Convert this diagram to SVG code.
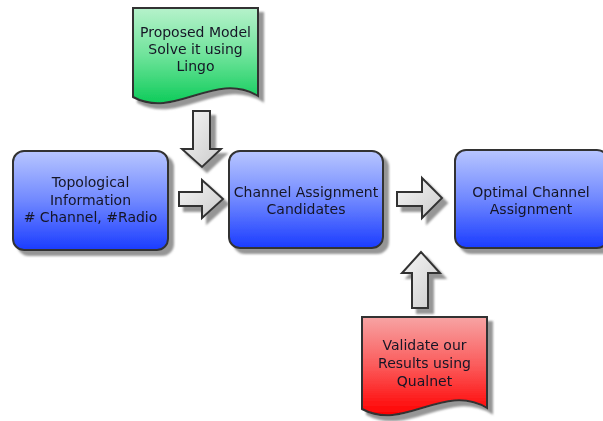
<svg xmlns="http://www.w3.org/2000/svg" width="603" height="421" viewBox="0 0 603 421">
<style>
.box{stroke:#333;stroke-width:2;fill:url(#gBlue)}
.doc{stroke:#333;stroke-width:2}
.arr{stroke:#333;stroke-width:2;fill:url(#gGray);stroke-linejoin:miter}
.t{font-family:"DejaVu Sans","Liberation Sans",sans-serif;font-size:14px;fill:#151525;text-anchor:middle}
</style>
<defs>
<linearGradient id="gBlue" x1="0" y1="0" x2="0" y2="1">
<stop offset="0" stop-color="#b8c6ff"/>
<stop offset="0.5" stop-color="#7088ff"/>
<stop offset="1" stop-color="#1a3cff"/>
</linearGradient>
<linearGradient id="gGreen" x1="0" y1="0" x2="0" y2="1">
<stop offset="0" stop-color="#b6f2cb"/>
<stop offset="0.5" stop-color="#6ee39a"/>
<stop offset="1" stop-color="#0ecc5a"/>
</linearGradient>
<linearGradient id="gRed" x1="0" y1="0" x2="0" y2="1">
<stop offset="0" stop-color="#f7a4a4"/>
<stop offset="0.5" stop-color="#fb5a5a"/>
<stop offset="1" stop-color="#ff0000"/>
</linearGradient>
<linearGradient id="gGray" x1="0" y1="0" x2="1" y2="1">
<stop offset="0" stop-color="#f6f6f6"/>
<stop offset="1" stop-color="#cbcbcb"/>
</linearGradient>
<filter id="sh" x="-10%" y="-10%" width="130%" height="130%">
<feDropShadow dx="5" dy="5" stdDeviation="1" flood-color="#8a8a8a" flood-opacity="0.9"/>
</filter>
</defs>
<rect width="603" height="421" fill="#fff"/>

<g id="connectors" filter="url(#sh)">
<polygon class="arr" points="193,111 210,111 210,149 221,149 202,167 182,149 193,149"/>
<polygon class="arr" points="179,192 202,192 202,180 223,199 202,218 202,206 179,206"/>
<polygon class="arr" points="397,192 422,192 422,178 442,198 422,218 422,206 397,206"/>
<polygon class="arr" points="412,308 412,273 402,273 421,252 440,273 428,273 428,308"/>
</g>

<g id="topological" filter="url(#sh)">
<rect class="box" x="13" y="151" width="155" height="99" rx="11"/>
<text class="t" x="90.5" y="187">Topological</text>
<text class="t" x="90.5" y="204.5">Information</text>
<text class="t" x="90.5" y="222"># Channel, #Radio</text>
</g>

<g id="candidates" filter="url(#sh)">
<rect class="box" x="229" y="151" width="154" height="97" rx="11"/>
<text class="t" x="306" y="197">Channel Assignment</text>
<text class="t" x="306" y="214">Candidates</text>
</g>

<g id="optimal" filter="url(#sh)">
<rect class="box" x="455" y="150" width="153" height="98" rx="11"/>
<text class="t" x="531" y="197">Optimal Channel</text>
<text class="t" x="531" y="214">Assignment</text>
</g>

<g id="proposed" filter="url(#sh)">
<path class="doc" fill="url(#gGreen)" d="M133,8 H258 V96 C215,70 175,120 133,97 Z"/>
<text class="t" x="195.5" y="36.5">Proposed Model</text>
<text class="t" x="195.5" y="54">Solve it using</text>
<text class="t" x="195.5" y="71">Lingo</text>
</g>

<g id="validate" filter="url(#sh)">
<path class="doc" fill="url(#gRed)" d="M362,317 H487 V408 C444,382 404,432 362,409 Z"/>
<text class="t" x="424.5" y="349.5">Validate our</text>
<text class="t" x="424.5" y="367.5">Results using</text>
<text class="t" x="424.5" y="385.5">Qualnet</text>
</g>
</svg>
